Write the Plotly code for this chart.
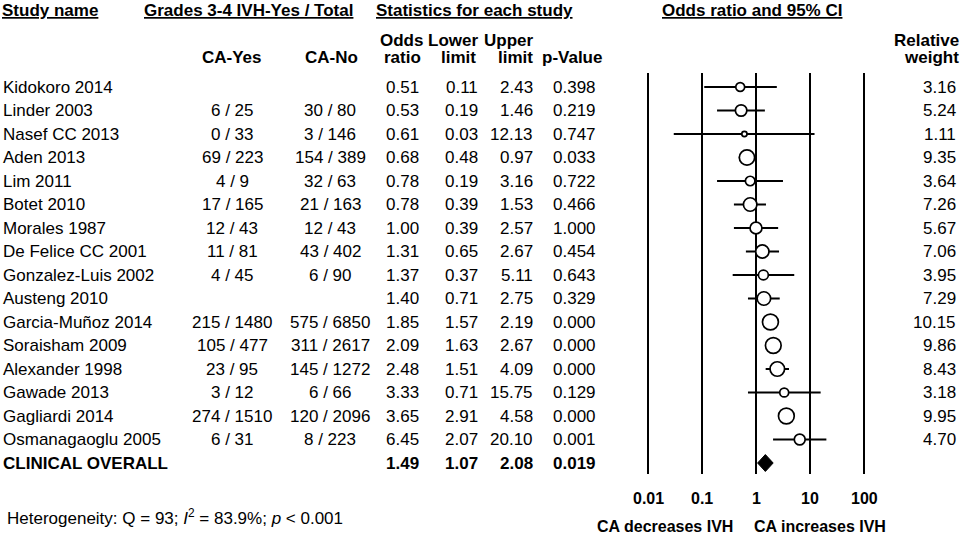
import plotly.graph_objects as go
import math

studies = ["Kidokoro 2014", "Linder 2003", "Nasef CC 2013", "Aden 2013", "Lim 2011",
           "Botet 2010", "Morales 1987", "De Felice CC 2001", "Gonzalez-Luis 2002",
           "Austeng 2010", "Garcia-Muñoz 2014", "Soraisham 2009", "Alexander 1998",
           "Gawade 2013", "Gagliardi 2014", "Osmanagaoglu 2005"]
ca_yes = ["", "6 / 25", "0 / 33", "69 / 223", "4 / 9", "17 / 165", "12 / 43", "11 / 81",
          "4 / 45", "", "215 / 1480", "105 / 477", "23 / 95", "3 / 12", "274 / 1510", "6 / 31"]
ca_no = ["", "30 / 80", "3 / 146", "154 / 389", "32 / 63", "21 / 163", "12 / 43", "43 / 402",
         "6 / 90", "", "575 / 6850", "311 / 2617", "145 / 1272", "6 / 66", "120 / 2096", "8 / 223"]
odds_ratio = [0.51, 0.53, 0.61, 0.68, 0.78, 0.78, 1.00, 1.31, 1.37, 1.40, 1.85, 2.09, 2.48, 3.33, 3.65, 6.45]
lower = [0.11, 0.19, 0.03, 0.48, 0.19, 0.39, 0.39, 0.65, 0.37, 0.71, 1.57, 1.63, 1.51, 0.71, 2.91, 2.07]
upper = [2.43, 1.46, 12.13, 0.97, 3.16, 1.53, 2.57, 2.67, 5.11, 2.75, 2.19, 2.67, 4.09, 15.75, 4.58, 20.10]
p_values = ["0.398", "0.219", "0.747", "0.033", "0.722", "0.466", "1.000", "0.454", "0.643",
            "0.329", "0.000", "0.000", "0.000", "0.129", "0.000", "0.001"]
weights = [3.16, 5.24, 1.11, 9.35, 3.64, 7.26, 5.67, 7.06, 3.95, 7.29, 10.15, 9.86, 8.43, 3.18, 9.95, 4.70]

overall_label = "CLINICAL OVERALL"
overall_or = 1.49
overall_lower = 1.07
overall_upper = 2.08
overall_p = "0.019"

tick_values = [0.01, 0.1, 1, 10, 100]
tick_labels = ["0.01", "0.1", "1", "10", "100"]

W, H = 963, 536
FONT = "Liberation Sans, Arial, sans-serif"
ROW0, ROW_H = 87, 23.5        # first study row and row spacing, px
X_ONE, DECADE = 756, 54       # position of OR = 1 and width of one decade, px
n = len(studies)
rows = list(range(n))
overall_row = n


def px(x):
    # pixel -> paper fraction
    return x / W


def py(y):
    # pixel -> row units
    return (y - ROW0) / ROW_H


fig = go.Figure()

# confidence interval lines
ci_x, ci_y = [], []
for i in rows:
    ci_x += [lower[i], upper[i], None]
    ci_y += [i, i, None]
fig.add_scatter(x=ci_x, y=ci_y, mode="lines", line=dict(color="black", width=2),
                hoverinfo="skip", showlegend=False)

# study markers, size by relative weight
fig.add_scatter(x=odds_ratio, y=rows, mode="markers",
                marker=dict(size=[5 * math.sqrt(w) for w in weights], color="white", opacity=1,
                            line=dict(color="black", width=1.7)),
                showlegend=False)

# overall diamond
h = 0.36
fig.add_scatter(x=[overall_lower, overall_or, overall_upper, overall_or, overall_lower],
                y=[overall_row, overall_row - h, overall_row, overall_row + h, overall_row],
                mode="lines", fill="toself", fillcolor="black",
                line=dict(color="black", width=1), showlegend=False)

# vertical reference lines
for t in tick_values:
    fig.add_shape(type="line", xref="x", yref="y", x0=t, x1=t, y0=py(73), y1=py(474),
                  line=dict(color="black", width=2), layer="below")

ann = []


def text(x, y, s, anchor="left", size=17, bold=False):
    if not s:
        return
    if bold:
        s = "<b>" + s + "</b>"
    ann.append(dict(x=px(x), y=y, xref="paper", yref="y", text=s, showarrow=False,
                    xanchor=anchor, yanchor="middle", borderpad=0, borderwidth=0,
                    font=dict(family=FONT, size=size, color="black")))


# headers
text(2, py(10), "<u>Study name</u>", bold=True)
text(248, py(10), "<u>Grades 3-4 IVH-Yes / Total</u>", "center", bold=True)
text(474, py(10), "<u>Statistics for each study</u>", "center", bold=True)
text(752, py(10), "<u>Odds ratio and 95% CI</u>", "center", bold=True)
text(232, py(57), "CA-Yes", "center", bold=True)
text(331, py(57), "CA-No", "center", bold=True)
text(423, py(40), "Odds", "right", bold=True)
text(421, py(57), "ratio", "right", bold=True)
text(478, py(40), "Lower", "right", bold=True)
text(476, py(57), "limit", "right", bold=True)
text(534, py(40), "Upper", "right", bold=True)
text(533, py(57), "limit", "right", bold=True)
text(602, py(57), "p-Value", "right", bold=True)
text(959, py(40), "Relative", "right", bold=True)
text(959, py(57), "weight", "right", bold=True)

# table rows
for i in rows:
    text(3, i, studies[i])
    text(232, i, ca_yes[i], "center")
    text(330, i, ca_no[i], "center")
    text(419, i, "%.2f" % odds_ratio[i], "right")
    text(478, i, "%.2f" % lower[i], "right")
    text(533, i, "%.2f" % upper[i], "right")
    text(596, i, p_values[i], "right")
    text(956, i, "%.2f" % weights[i], "right")

text(3, overall_row, overall_label, bold=True)
text(419, overall_row, "%.2f" % overall_or, "right", bold=True)
text(478, overall_row, "%.2f" % overall_lower, "right", bold=True)
text(533, overall_row, "%.2f" % overall_upper, "right", bold=True)
text(596, overall_row, overall_p, "right", bold=True)

# axis tick labels (annotation x on a log axis is given in log10 units)
for t, lab in zip(tick_values, tick_labels):
    ann.append(dict(x=math.log10(t), y=py(498), xref="x", yref="y", text="<b>" + lab + "</b>",
                    showarrow=False, xanchor="center", yanchor="middle",
                    font=dict(family=FONT, size=16, color="black")))

text(665, py(526), "CA decreases IVH", "center", size=16, bold=True)
text(820, py(526), "CA increases IVH", "center", size=16, bold=True)
text(7, py(517), "Heterogeneity: Q = 93; <i>I</i><sup>2</sup> = 83.9%; <i>p</i> &lt; 0.001", size=17)

fig.update_layout(
    width=W, height=H,
    margin=dict(l=0, r=0, t=0, b=0),
    paper_bgcolor="white", plot_bgcolor="white",
    xaxis=dict(type="log", range=[-X_ONE / DECADE, (W - X_ONE) / DECADE],
               visible=False, fixedrange=True),
    yaxis=dict(range=[(H - ROW0) / ROW_H, -ROW0 / ROW_H], visible=False, fixedrange=True),
    annotations=ann,
    showlegend=False,
)

# drop the browser's default body margin so the figure fills the window
fig.write_html("out.html", config={"displayModeBar": False},
               post_script="document.body.style.margin = '0';")
